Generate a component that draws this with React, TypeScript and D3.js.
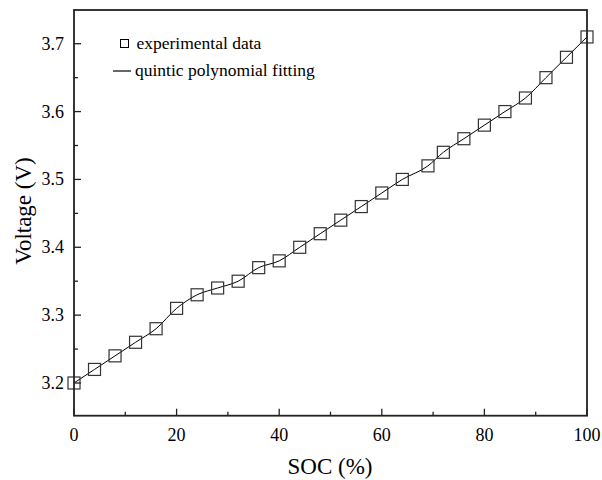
import React from "react";
import * as d3 from "d3";

const socValues = [0, 4, 8, 12, 16, 20, 24, 28, 32, 36, 40, 44, 48, 52, 56, 60, 64, 69, 72, 76, 80, 84, 88, 92, 96, 100];
const voltageValues = [3.2, 3.22, 3.24, 3.26, 3.28, 3.31, 3.33, 3.34, 3.35, 3.37, 3.38, 3.4, 3.42, 3.44, 3.46, 3.48, 3.5, 3.52, 3.54, 3.56, 3.58, 3.6, 3.62, 3.65, 3.68, 3.71];
const xTicks = [0, 20, 40, 60, 80, 100];
const xMinorTicks = [10, 30, 50, 70, 90];
const yTicks = [3.2, 3.3, 3.4, 3.5, 3.6, 3.7];
const yMinorTicks = [3.25, 3.35, 3.45, 3.55, 3.65];
const legendLabels = ["experimental data", "quintic polynomial fitting"];

const W = 602;
const H = 480;
const left = 74;
const right = 587;
const top = 10;
const bottom = 415.7;
const font = "Liberation Serif, DejaVu Serif, serif";

export default function App() {
  const x = d3.scaleLinear().domain([0, 100]).range([left, right]);
  const y = d3.scaleLinear().domain([3.1518, 3.7497]).range([bottom, top]);
  const data = socValues.map((s, i) => ({ s, v: voltageValues[i] }));
  const line = d3
    .line<{ s: number; v: number }>()
    .x((d) => x(d.s))
    .y((d) => y(d.v))
    .curve(d3.curveMonotoneX);
  const ms = 12;
  const ts = { fontFamily: font };
  return (
    <svg width={W} height={H} style={{ position: "absolute", left: 0, top: 0, background: "#fff" }}>
      <rect x={0} y={0} width={W} height={H} fill="#fff" />
      <path d={line(data) || ""} fill="none" stroke="#000" strokeWidth={1} />
      {data.map((d, i) => (
        <rect
          key={i}
          x={x(d.s) - ms / 2}
          y={y(d.v) - ms / 2}
          width={ms}
          height={ms}
          fill="none"
          stroke="#333"
          strokeWidth={1.2}
        />
      ))}
      <rect x={left} y={top} width={right - left} height={bottom - top} fill="none" stroke="#222" strokeWidth={1.8} />
      {xTicks.map((t) => (
        <g key={"xt" + t}>
          <line x1={x(t)} x2={x(t)} y1={bottom} y2={bottom - 7} stroke="#222" strokeWidth={1.3} />
          <text x={x(t)} y={441} textAnchor="middle" style={ts} fontSize={18} fill="#000">
            {t}
          </text>
        </g>
      ))}
      {xMinorTicks.map((t) => (
        <line key={"xm" + t} x1={x(t)} x2={x(t)} y1={bottom} y2={bottom - 4} stroke="#222" strokeWidth={1.3} />
      ))}
      {yTicks.map((t) => (
        <g key={"yt" + t}>
          <line x1={left} x2={left + 7} y1={y(t)} y2={y(t)} stroke="#222" strokeWidth={1.3} />
          <text x={64} y={y(t) + 6} textAnchor="end" style={ts} fontSize={18} fill="#000">
            {t.toFixed(1)}
          </text>
        </g>
      ))}
      {yMinorTicks.map((t) => (
        <line key={"ym" + t} x1={left} x2={left + 4} y1={y(t)} y2={y(t)} stroke="#222" strokeWidth={1.3} />
      ))}
      <text x={330} y={474} textAnchor="middle" style={ts} fontSize={23} fill="#000">
        SOC (%)
      </text>
      <text transform={`translate(31, 211) rotate(-90)`} textAnchor="middle" style={ts} fontSize={23} fill="#000">
        Voltage (V)
      </text>
      <rect x={120.5} y={39.5} width={8} height={8} fill="none" stroke="#000" strokeWidth={1} />
      <text x={136.5} y={49} style={ts} fontSize={17.5} fill="#000">
        {legendLabels[0]}
      </text>
      <line x1={113} x2={131} y1={71} y2={71} stroke="#000" strokeWidth={1.2} />
      <text x={135} y={76} style={ts} fontSize={17.5} fill="#000">
        {legendLabels[1]}
      </text>
    </svg>
  );
}
